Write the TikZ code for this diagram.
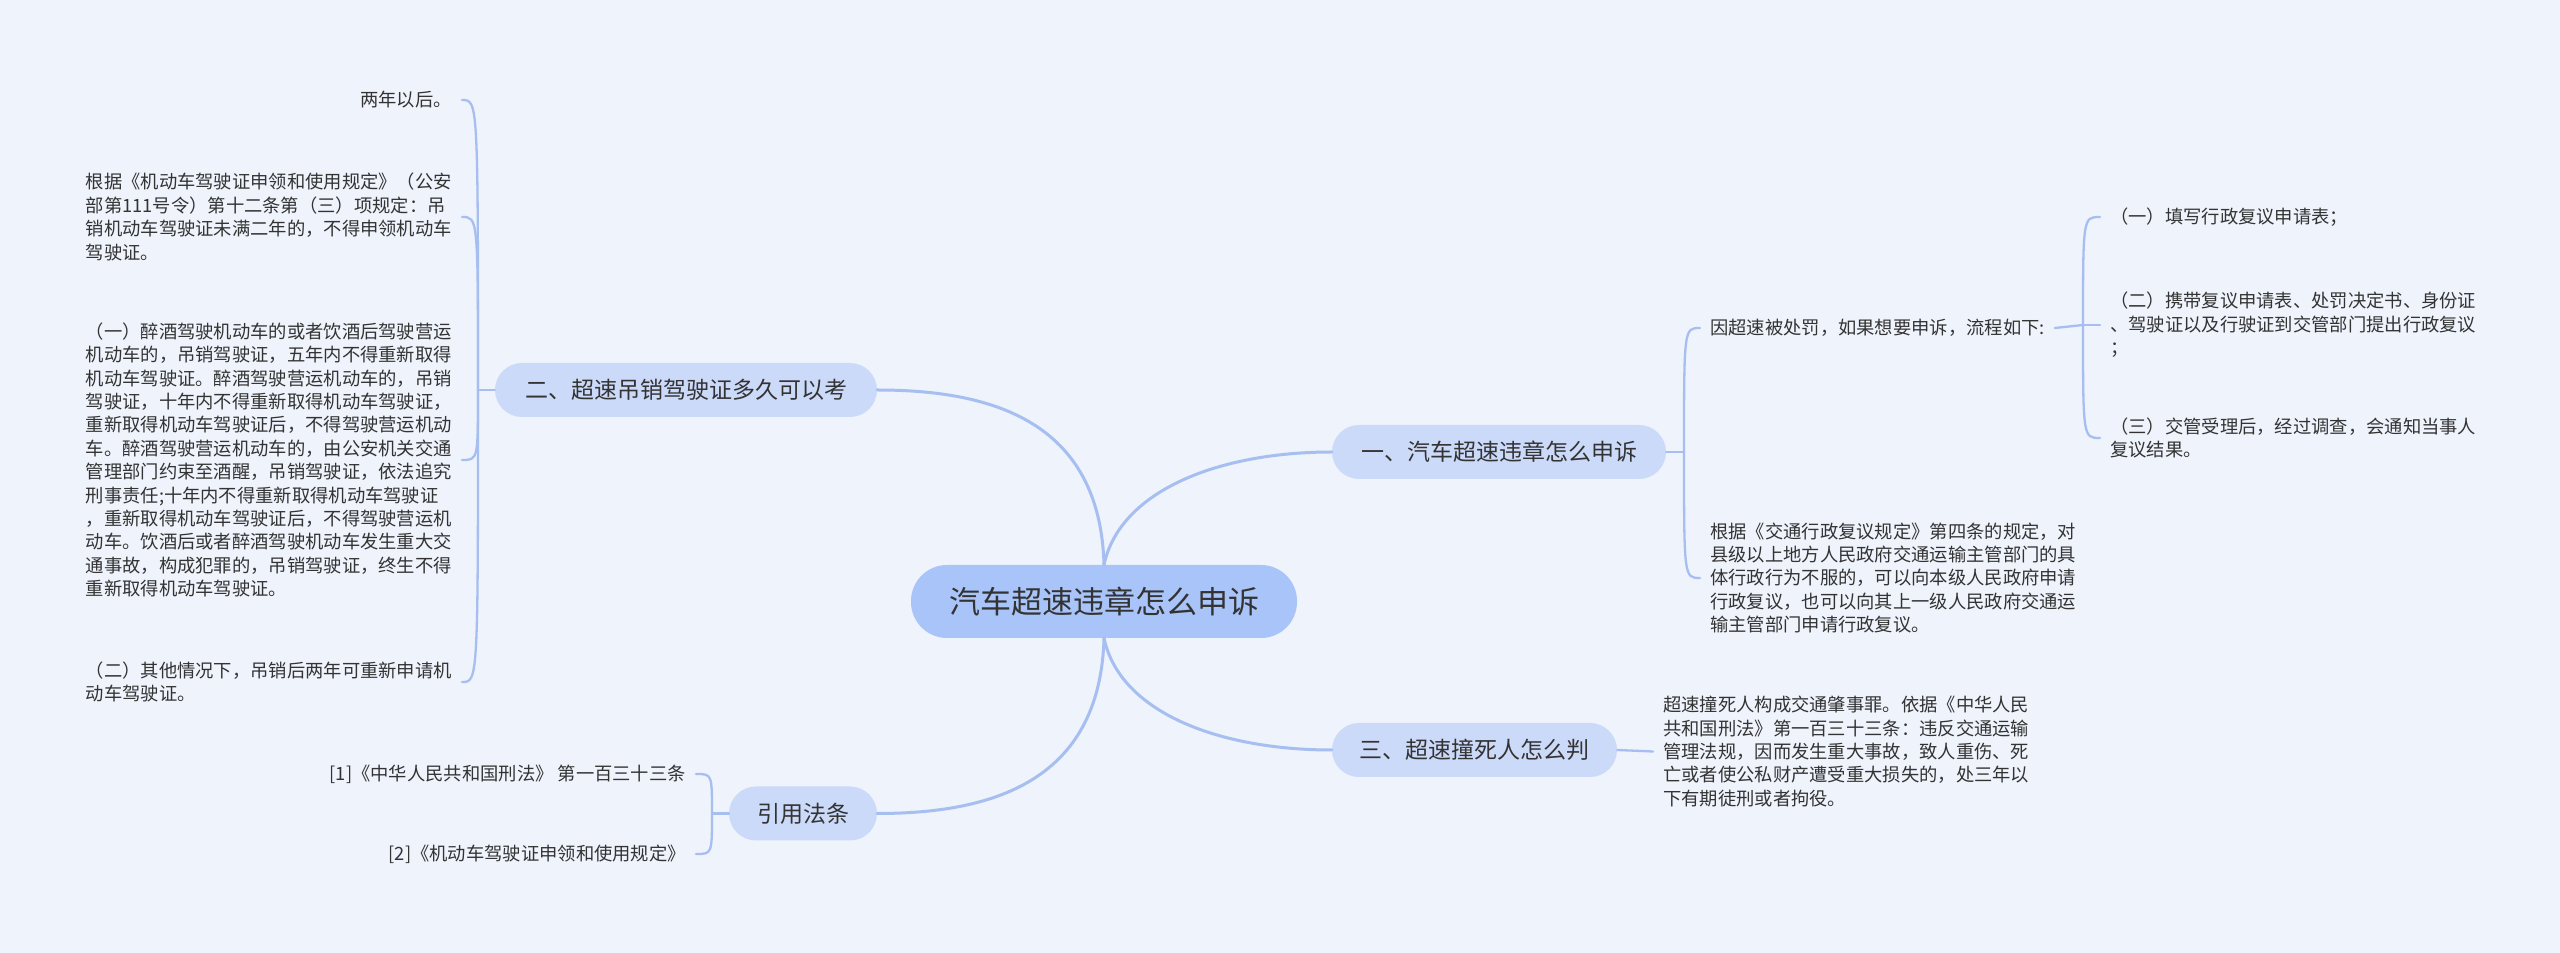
\documentclass[tikz,border=0pt]{standalone}
\usepackage{fontspec}
\setmainfont{Noto Sans CJK SC}
\definecolor{bgblue}{HTML}{EEF3FC}
\definecolor{rootblue}{HTML}{A9C4F9}
\definecolor{branchblue}{HTML}{CCDAF9}
\definecolor{linkblue}{HTML}{A6BEF0}
\definecolor{inkgray}{HTML}{333333}
\begin{document}
\begin{tikzpicture}[line join=bevel,
  rootbox/.style={fill=rootblue,draw=none,rounded corners=36bp,minimum width=386bp,minimum height=73bp,inner sep=0pt,text=inkgray,font=\fontsize{31bp}{36bp}\selectfont},
  branchbox/.style={fill=branchblue,draw=none,rounded corners=27bp,minimum height=54bp,inner sep=0pt,text=inkgray,font=\fontsize{23bp}{28bp}\selectfont},
  leaf/.style={draw=none,inner xsep=10bp,inner ysep=0pt,text=inkgray,font=\fontsize{18.3bp}{23.4bp}\selectfont},
  link/.style={draw=linkblue,line width=3bp,line cap=round},
  hook/.style={draw=linkblue,line width=2.3bp,line cap=round},
]
\fill [bgblue] (0bp,0bp) rectangle (2560bp,953bp);
\useasboundingbox (0bp,0bp) rectangle (2560bp,953bp);
%%
\node (root) at (1104bp,351.5bp) [rootbox] {汽车超速违章怎么申诉};
  \node (revoke) at (686bp,563bp) [branchbox,minimum width=382bp] {二、超速吊销驾驶证多久可以考};
  \node (appeal) at (1499bp,501bp) [branchbox,minimum width=334bp] {一、汽车超速违章怎么申诉};
  \node (death) at (1474.5bp,203bp) [branchbox,minimum width=285bp] {三、超速撞死人怎么判};
  \node (laws) at (803bp,139.5bp) [branchbox,minimum width=148bp] {引用法条};
%
  \node (twoyears) at (462bp,853bp) [leaf,anchor=east,align=right] {两年以后。};
  \node (rule111) at (462bp,736bp) [leaf,anchor=east,align=left] {根据《机动车驾驶证申领和使用规定》（公安\\部第111号令）第十二条第（三）项规定：吊\\销机动车驾驶证未满二年的，不得申领机动车\\驾驶证。};
  \node (drunk) at (462bp,493bp) [leaf,anchor=east,align=left] {（一）醉酒驾驶机动车的或者饮酒后驾驶营运\\机动车的，吊销驾驶证，五年内不得重新取得\\机动车驾驶证。醉酒驾驶营运机动车的，吊销\\驾驶证，十年内不得重新取得机动车驾驶证，\\重新取得机动车驾驶证后，不得驾驶营运机动\\车。醉酒驾驶营运机动车的，由公安机关交通\\管理部门约束至酒醒，吊销驾驶证，依法追究\\刑事责任;十年内不得重新取得机动车驾驶证\\，重新取得机动车驾驶证后，不得驾驶营运机\\动车。饮酒后或者醉酒驾驶机动车发生重大交\\通事故，构成犯罪的，吊销驾驶证，终生不得\\重新取得机动车驾驶证。};
  \node (others) at (462bp,271bp) [leaf,anchor=east,align=left] {（二）其他情况下，吊销后两年可重新申请机\\动车驾驶证。};
%
  \node (process) at (1700bp,625bp) [leaf,anchor=west,align=left] {因超速被处罚，如果想要申诉，流程如下:};
  \node (review) at (1700bp,375bp) [leaf,anchor=west,align=left] {根据《交通行政复议规定》第四条的规定，对\\县级以上地方人民政府交通运输主管部门的具\\体行政行为不服的，可以向本级人民政府申请\\行政复议，也可以向其上一级人民政府交通运\\输主管部门申请行政复议。};
  \node (step1) at (2100bp,736bp) [leaf,anchor=west,align=left] {（一）填写行政复议申请表；};
  \node (step2) at (2100bp,628bp) [leaf,anchor=west,align=left] {（二）携带复议申请表、处罚决定书、身份证\\、驾驶证以及行驶证到交管部门提出行政复议\\；};
  \node (step3) at (2100bp,515bp) [leaf,anchor=west,align=left] {（三）交管受理后，经过调查，会通知当事人\\复议结果。};
%
  \node (penalty) at (1653bp,201.5bp) [leaf,anchor=west,align=left] {超速撞死人构成交通肇事罪。依据《中华人民\\共和国刑法》第一百三十三条：违反交通运输\\管理法规，因而发生重大事故，致人重伤、死\\亡或者使公私财产遭受重大损失的，处三年以\\下有期徒刑或者拘役。};
  \node (cite1) at (696bp,179bp) [leaf,anchor=east,align=right] {[1]《中华人民共和国刑法》 第一百三十三条};
  \node (cite2) at (696bp,99bp) [leaf,anchor=east,align=right] {[2]《机动车驾驶证申领和使用规定》};
%
  \coordinate (revoke-j) at (478bp,563bp);
  \coordinate (appeal-j) at (1684bp,501bp);
  \coordinate (process-j) at (2083bp,628bp);
  \coordinate (laws-j) at (712bp,139.5bp);
%%
  \draw [link] (root.north) ..controls (1100bp,533bp) and (990bp,563bp)  .. (revoke.east);
  \draw [link] (root.north) ..controls (1120bp,463bp) and (1220bp,501bp)  .. (appeal.west);
  \draw [link] (root.south) ..controls (1100bp,170bp) and (990bp,139.5bp)  .. (laws.east);
  \draw [link] (root.south) ..controls (1120bp,240bp) and (1220bp,203bp)  .. (death.west);
%
  \draw [hook] (revoke.west) -- (revoke-j);
  \draw [hook] (revoke-j) ..controls (478bp,853bp)  .. (twoyears.east);
  \draw [hook] (revoke-j) ..controls (478bp,736bp)  .. (rule111.east);
  \draw [hook] (revoke-j) ..controls (478bp,493bp)  .. (drunk.east);
  \draw [hook] (revoke-j) ..controls (478bp,271bp)  .. (others.east);
  \draw [hook] (appeal.east) -- (appeal-j);
  \draw [hook] (appeal-j) ..controls (1684bp,625bp)  .. (process.west);
  \draw [hook] (appeal-j) ..controls (1684bp,375bp)  .. (review.west);
  \draw [hook] (process.east) -- (process-j);
  \draw [hook] (process-j) ..controls (2083bp,736bp)  .. (step1.west);
  \draw [hook] (process-j) -- (step2.west);
  \draw [hook] (process-j) ..controls (2083bp,515bp)  .. (step3.west);
  \draw [hook] (death.east) -- (penalty.west);
  \draw [hook] (laws.west) -- (laws-j);
  \draw [hook] (laws-j) ..controls (712bp,179bp)  .. (cite1.east);
  \draw [hook] (laws-j) ..controls (712bp,99bp)  .. (cite2.east);
%
\end{tikzpicture}
\end{document}
